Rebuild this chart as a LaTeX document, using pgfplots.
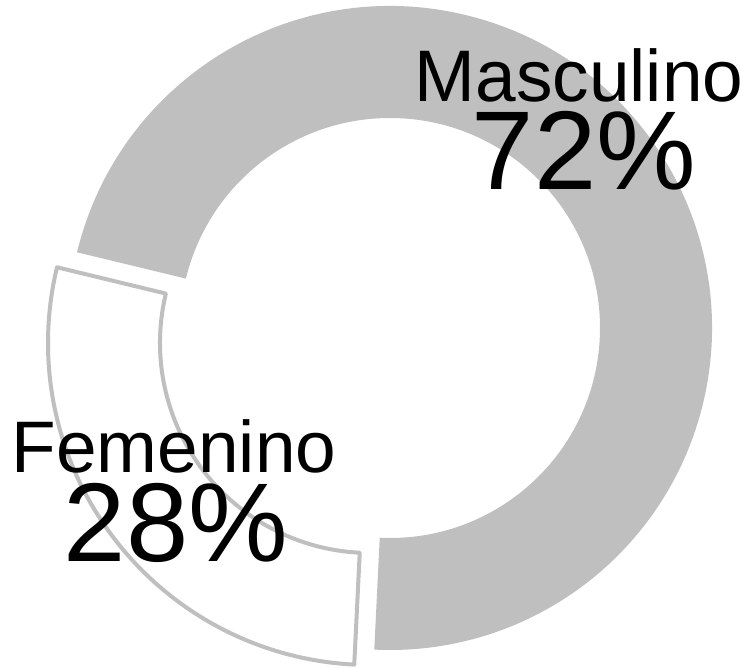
\documentclass[border=0pt]{standalone}
\usepackage{pgfplots}
\usepackage{pgfplotstable}
\pgfplotsset{compat=1.18}
\usepackage{fontspec}
\setmainfont{Liberation Sans}
\definecolor{slicegray}{HTML}{BFBFBF}

\pgfplotstableread{
label value
Masculino 72
Femenino 28
}\datatable
\pgfplotstablegetelem{0}{value}\of\datatable \let\vM\pgfplotsretval
\pgfplotstablegetelem{1}{value}\of\datatable \let\vF\pgfplotsretval
\pgfplotstablegetelem{0}{label}\of\datatable \let\lM\pgfplotsretval
\pgfplotstablegetelem{1}{label}\of\datatable \let\lF\pgfplotsretval

% geometry (1 unit = 1 px of the reference)
\def\cx{390}\def\cy{340}
\def\Rout{322}\def\Rin{210}
\def\startang{166.4}
\pgfmathsetmacro{\endM}{\startang-3.6*\vM}
\pgfmathsetmacro{\endF}{\endM-3.6*\vF}
\pgfmathsetmacro{\midF}{(\endM+\endF)/2}
\pgfmathsetmacro{\offx}{\cx+25*cos(\midF)}
\pgfmathsetmacro{\offy}{\cy+25*sin(\midF)}

\begin{document}
\begin{tikzpicture}
\begin{axis}[
  scale only axis, width=749pt, height=668pt,
  xmin=0, xmax=749, ymin=0, ymax=668,
  hide axis, clip=false,
]
\begin{scope}[shift={(axis cs:\cx,\cy)}]
  \fill[slicegray] (\startang:\Rout pt) arc[start angle=\startang, end angle=\endM, radius=\Rout pt]
     -- (\endM:\Rin pt) arc[start angle=\endM, end angle=\startang, radius=\Rin pt] -- cycle;
\end{scope}
\begin{scope}[shift={(axis cs:\offx,\offy)}]
  \filldraw[fill=white, draw=slicegray, line width=4pt, line join=round]
     (\endM:\Rout pt) arc[start angle=\endM, end angle=\endF, radius=\Rout pt]
     -- (\endF:\Rin pt) arc[start angle=\endF, end angle=\endM, radius=\Rin pt] -- cycle;
\end{scope}
\node[anchor=base, inner sep=0pt, font=\fontsize{73}{73}\selectfont] at (axis cs:579,566) {\lM};
\node[anchor=base, inner sep=0pt, font=\fontsize{112}{112}\selectfont] at (axis cs:584,478) {\vM\%};
\node[anchor=base, inner sep=0pt, font=\fontsize{73}{73}\selectfont] at (axis cs:174,195) {\lF};
\node[anchor=base, inner sep=0pt, font=\fontsize{112}{112}\selectfont] at (axis cs:176,106) {\vF\%};
\end{axis}
\pgfresetboundingbox
\useasboundingbox (0,0) rectangle (749pt,668pt);
\end{tikzpicture}
\end{document}
